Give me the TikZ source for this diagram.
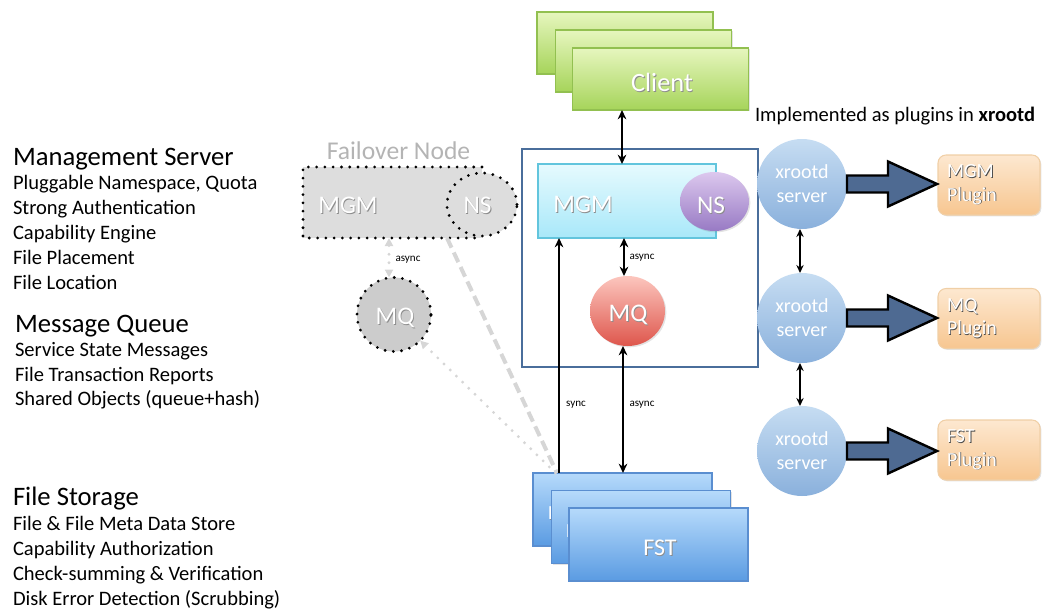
\documentclass[tikz,border=0pt]{standalone}
\usepackage{fontspec}
\setmainfont{Carlito}
\usetikzlibrary{shapes.geometric,shadows,arrows.meta}

\definecolor{clientTop}{HTML}{E6F6BE}
\definecolor{clientBot}{HTML}{A6D45A}
\definecolor{clientLine}{HTML}{92C050}
\definecolor{mgmTop}{HTML}{E6FAFE}
\definecolor{mgmBot}{HTML}{A8E8F9}
\definecolor{mgmLine}{HTML}{62C5DD}
\definecolor{nsTop}{HTML}{DCC8EE}
\definecolor{nsBot}{HTML}{987AC4}
\definecolor{mqTop}{HTML}{FCC6BE}
\definecolor{mqBot}{HTML}{DE564C}
\definecolor{fstTop}{HTML}{B6DAFB}
\definecolor{fstBot}{HTML}{5A9BE2}
\definecolor{fstLine}{HTML}{5A8ED0}
\definecolor{xrTop}{HTML}{C6DDF2}
\definecolor{xrBot}{HTML}{8AB0DC}
\definecolor{plugTop}{HTML}{FDE8D0}
\definecolor{plugBot}{HTML}{F7C690}
\definecolor{plugLine}{HTML}{F0CFA6}
\definecolor{blockFill}{HTML}{4E6A92}
\definecolor{frameLine}{HTML}{4A6E9B}
\definecolor{foFill}{HTML}{DDDDDD}
\definecolor{foMQ}{HTML}{CCCCCC}
\definecolor{foText}{HTML}{B4B4B4}
\definecolor{foLine}{HTML}{D6D6D6}

% one pixel of the drawing grid
\newcommand{\pxu}{0.75pt}
% white label with a soft grey shadow
\newcommand{\emb}[1]{\leavevmode\rlap{\kern0.7pt\raisebox{-0.7pt}{\color{black!45}#1}}#1}
% white label with a darker shadow, for pale backgrounds
\newcommand{\embd}[1]{\leavevmode\rlap{\kern0.6pt\raisebox{-0.6pt}{\color{black!70}#1}}#1}

\tikzset{
  every node/.style={inner sep=0pt, outer sep=0pt},
  title/.style={anchor=base west, font=\fontsize{20}{22}\selectfont},
  item/.style={anchor=base west, font=\fontsize{15.4}{18}\selectfont},
  lbl/.style={text=white, font=\fontsize{19}{22}\selectfont},
  small/.style={font=\fontsize{8.3}{10}\selectfont},
  soft/.style={drop shadow={opacity=0.22, shadow xshift=1pt, shadow yshift=-1pt}},
  clientbox/.style={rectangle, draw=clientLine, line width=0.8pt, top color=clientTop,
    bottom color=clientBot, minimum width=176*\pxu, minimum height=62*\pxu, soft},
  mgmbox/.style={rectangle, draw=mgmLine, line width=0.8pt, top color=mgmTop,
    bottom color=mgmBot, minimum width=178*\pxu, minimum height=74*\pxu, soft},
  nsball/.style={ellipse, top color=nsTop, bottom color=nsBot,
    minimum width=69*\pxu, minimum height=59*\pxu, soft},
  mqball/.style={ellipse, top color=mqTop, bottom color=mqBot,
    minimum width=75*\pxu, minimum height=70*\pxu, soft},
  fstbox/.style={rectangle, draw=fstLine, line width=0.8pt, top color=fstTop,
    bottom color=fstBot, minimum width=179*\pxu, minimum height=73*\pxu, soft},
  xrball/.style={circle, top color=xrTop, bottom color=xrBot, minimum size=90*\pxu,
    text=white, align=center, font=\fontsize{15}{18}\selectfont},
  plugbox/.style={rectangle, rounded corners=6pt, draw=plugLine, line width=0.8pt,
    top color=plugTop, bottom color=plugBot, text width=84*\pxu, inner xsep=9*\pxu,
    minimum height=60*\pxu, align=left, text=white, font=\fontsize{15}{17.5}\selectfont, soft},
  blk/.style={fill=blockFill, draw=black, line width=1.8pt, line join=miter},
  bk/.tip={Stealth[length=7pt, width=6.5pt]},
  bks/.tip={Stealth[length=6pt, width=5.5pt]},
  gr/.tip={Triangle[length=6pt, width=6pt, fill=foLine, color=foLine]},
  one/.style={line width=2.1pt, -{bk}},
  dbl/.style={line width=2.1pt, {bk}-{bk}},
  dblthin/.style={line width=1.5pt, {bks}-{bks}},
  dots/.style={draw=black, line width=2.3pt, dash pattern=on 0pt off 6.2pt, line cap=round},
  fodash/.style={draw=foLine, line width=3pt, dash pattern=on 8pt off 4pt},
  fodots/.style={draw=foLine, line width=2.4pt, dash pattern=on 0pt off 6.5pt, line cap=round},
}

\begin{document}
\begin{tikzpicture}[x=0.75pt, y=-0.75pt]
\useasboundingbox (0,0) rectangle (1042,610);

% ---- descriptions on the left ----
\node[title] (msT) at (13,165) {Management Server};
\foreach \t [count=\i] in {{Pluggable Namespace, Quota},Strong Authentication,Capability Engine,File Placement,File Location}
  \node[item] (ms\i) at (13,165+24.8*\i) {\t};
\node[title] (mqT) at (15,332) {Message Queue};
\foreach \t [count=\i] in {Service State Messages,File Transaction Reports,Shared Objects (queue+hash)}
  \node[item] (mq\i) at (15,332+24.6*\i) {\t};
\node[title] (fsT) at (13,505) {File Storage};
\foreach \t [count=\i] in {File \& File Meta Data Store,Capability Authorization,Check-summing \& Verification,Disk Error Detection (Scrubbing)}
  \node[item] (fs\i) at (13,505+25*\i) {\t};

% ---- column helpers ----
\coordinate (colA) at (622,0);
\coordinate (colB) at (624,0);
\coordinate (colC) at (623,0);
\coordinate (colS) at (559,0);
\coordinate (colF) at (389,0);
\coordinate (colX) at (800,0);

% ---- clients ----
\node[clientbox] (c1) at (625,43) {};
\node[clientbox] (c2) at (643.5,61) {};
\node[clientbox] (c3) at (660.5,79) {};
\node[lbl, font=\fontsize{19.8}{22}\selectfont] (clbl) at (662,82.5) {\emb{Client}};

% ---- failover node ----
\node[text=foText, font=\fontsize{19.2}{22}\selectfont] (fot) at (398.5,151) {Failover Node};
\node[fill=foFill, minimum width=179*\pxu, minimum height=71*\pxu] (fmgm) at (392.5,202.5) {};
\node[ellipse, fill=foFill, dots, minimum width=70*\pxu, minimum height=63*\pxu] (fns) at (482,204.5) {};
\draw[dots] (fmgm.north east) -- (fmgm.north west) -- (fmgm.south west) -- (fmgm.south east);
\node[lbl] (fmgmlbl) at (348,206) {\emb{MGM}};
\node[lbl] (fnslbl) at (477.5,206) {\emb{NS}};
\node[circle, fill=foMQ, dots, minimum size=74*\pxu] (fmq) at (394,314.5) {};
\node[lbl] (fmqlbl) at (395,318) {\emb{MQ}};
\draw[fodots, {gr}-{gr}] (fmgm.south -| colF) -- (fmq.north -| colF);
\node[small] (fasync) at (408,260) {async};

% ---- core: MGM, NS, MQ ----
\node[draw=frameLine, line width=1.6pt, minimum width=236*\pxu, minimum height=218*\pxu] (core) at (640,258) {};
\node[mgmbox] (mgm) at (627,201) {};
\node[lbl] (mgmlbl) at (583,205) {\emb{MGM}};
\node[nsball] (ns) at (714.5,201.5) {};
\node[lbl] (nslbl) at (711,206) {\emb{NS}};
\node[mqball] (mq) at (627.5,311) {};
\node[lbl] (mqlbl) at (628,315) {\emb{MQ}};

% ---- file storage ----
\node[fstbox] (fst1) at (622.5,509.5) {};
\node[lbl, anchor=west, font=\fontsize{15}{18}\selectfont] (fst1lbl) at (548,513.5) {\emb{FST}};
\node[fstbox] (fst2) at (641,527) {};
\node[lbl, anchor=west, font=\fontsize{15}{18}\selectfont] (fst2lbl) at (566,531.5) {\emb{FST}};
\node[fstbox] (fst3) at (658.5,544.5) {};
\node[lbl, font=\fontsize{18}{22}\selectfont] (fst3lbl) at (660,548.5) {\emb{FST}};

% ---- failover links ----
\draw[fodash] ([xshift=54.5*\pxu]fmgm.south) -- ([xshift=-65.5*\pxu]fst1.north);
\draw[fodots, -{gr}] ([xshift=-67*\pxu]fst1.north) -- (fmq.-45);

% ---- connectors ----
\draw[dbl] (c3.south -| colA) -- (mgm.north -| colA);
\draw[dbl] (mgm.south -| colB) -- (mq.north -| colB);
\node[small] (asyncA) at (642,258) {async};
\draw[one] (fst1.north -| colS) -- (mgm.south -| colS);
\node[small] (syncL) at (576,405) {sync};
\draw[dbl] (mq.south -| colC) -- (fst1.north -| colC);
\node[small] (asyncB) at (642,405) {async};

% ---- xrootd plugins ----
\node[anchor=base west, font=\fontsize{15.4}{18}\selectfont] (impl) at (755,122) {Implemented as plugins in \textbf{xrootd}};
\node[xrball] (x1) at (802,184) {xrootd\\server};
\node[xrball] (x2) at (802,318) {xrootd\\server};
\node[xrball] (x3) at (802,451) {xrootd\\server};
\draw[dblthin] (x1.south -| colX) -- (x2.north -| colX);
\draw[dblthin] (x2.south -| colX) -- (x3.north -| colX);

\node[plugbox] (p1) at (989,185) {\embd{MGM}\\\embd{Plugin}};
\node[plugbox] (p2) at (989,318.5) {\embd{MQ}\\\embd{Plugin}};
\node[plugbox] (p3) at (989,450) {\embd{FST}\\\embd{Plugin}};

\foreach \k in {1,2,3}
  \draw[blk] (x\k.east) ++(0,-8.5) -- ++(41,0) -- ++(0,-14) -- ++(49,22.5)
    -- ++(-49,22.5) -- ++(0,-14) -- ++(-41,0) -- cycle;
\end{tikzpicture}
\end{document}
